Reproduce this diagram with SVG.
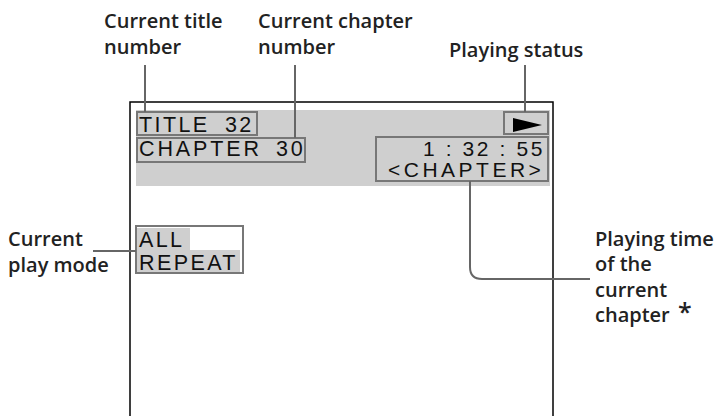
<svg xmlns="http://www.w3.org/2000/svg" width="720" height="416" viewBox="0 0 720 416">
<style>
.lbl{font-family:"Open Sans","Liberation Sans",sans-serif;font-weight:600;font-size:20px;fill:#222}
.osd{font-family:"Liberation Sans",Arial,sans-serif;font-size:21.5px;fill:#111;letter-spacing:2.4px}
.box{fill:none;stroke:#777;stroke-width:2}
.lead{fill:none;stroke:#666;stroke-width:2}
</style>
<rect width="720" height="416" fill="#fff"/>
<g id="screen">
<rect x="130" y="102" width="423" height="400" fill="#fff" stroke="#000" stroke-width="1.5"/>
<rect x="136" y="110" width="414" height="76" fill="#cfcfcf"/>
</g>
<g id="title-number">
<rect class="box" x="137" y="112" width="120" height="23"/>
<text class="osd" y="132"><tspan x="139">TITLE</tspan><tspan x="225">32</tspan></text>
</g>
<g id="chapter-number">
<rect class="box" x="137" y="138" width="168" height="24"/>
<text class="osd" y="155.5" style="letter-spacing:2.9px"><tspan x="139">CHAPTER</tspan><tspan x="276">30</tspan></text>
</g>
<g id="playing-status">
<rect class="box" x="504" y="112" width="44" height="22"/>
<polygon points="513,118 542,125 513,132" fill="#000"/>
</g>
<g id="playing-time">
<rect class="box" x="376" y="137" width="172" height="44"/>
<text class="osd" x="423" y="156" style="font-size:21px;letter-spacing:2.6px">1 : 32 : 55</text>
<text class="osd" x="388" y="177" style="font-size:21px;letter-spacing:3.5px">&lt;CHAPTER&gt;</text>
</g>
<g id="play-mode">
<rect x="136" y="226" width="107" height="47" fill="#fff" stroke="#777" stroke-width="2"/>
<rect x="137" y="228" width="53" height="22" fill="#cfcfcf"/>
<rect x="137" y="250" width="103" height="22" fill="#cfcfcf"/>
<text class="osd" x="139" y="247">ALL</text>
<text class="osd" x="139" y="269.5">REPEAT</text>
</g>
<g id="labels">
<text class="lbl" x="104" y="28">Current title</text>
<text class="lbl" x="104" y="54">number</text>
<text class="lbl" x="258" y="28">Current chapter</text>
<text class="lbl" x="258" y="54">number</text>
<text class="lbl" x="449" y="57">Playing status</text>
<text class="lbl" x="8" y="246">Current</text>
<text class="lbl" x="8" y="272">play mode</text>
<text class="lbl" x="595" y="246">Playing time</text>
<text class="lbl" x="595" y="271">of the</text>
<text class="lbl" x="595" y="297">current</text>
<text class="lbl" x="595" y="322">chapter</text>
<text class="lbl" x="678" y="321" style="font-size:25px">*</text>
</g>
<g id="connectors">
<line class="lead" x1="145" y1="65" x2="145" y2="112"/>
<line class="lead" x1="295" y1="65" x2="295" y2="138"/>
<line class="lead" x1="525" y1="65" x2="525" y2="112"/>
<line class="lead" x1="93" y1="251" x2="136" y2="251"/>
<path class="lead" d="M470,181 V267 Q470,279 482,279 H590"/>
</g>
</svg>
